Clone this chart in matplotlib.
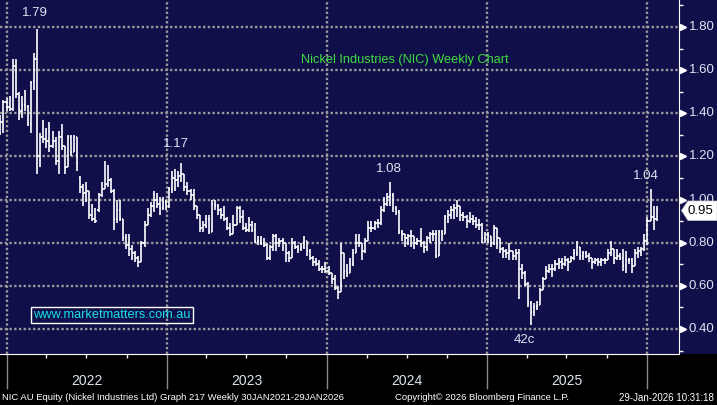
import matplotlib
matplotlib.use("Agg")
import matplotlib.pyplot as plt
import matplotlib.dates as mdates
from matplotlib.patches import Polygon, Rectangle
import numpy as np
import pandas as pd

plt.rcParams['font.family'] = ['Liberation Sans', 'DejaVu Sans']

# ---------------- data (weekly OHLC) ----------------
first_week = '2021-12-17'

opens = [1.35, 1.36, 1.45, 1.43, 1.42, 1.62, 1.49, 1.41, 1.44, 1.43,
         1.35, 1.55, 1.65, 1.20, 1.29, 1.28, 1.27, 1.25, 1.27, 1.18,
         1.29, 1.25, 1.15, 1.29, 1.22, 1.29, 1.10, 1.06, 1.03, 1.04,
         0.93, 0.91, 0.95, 1.02, 1.05, 1.07, 1.09, 1.04, 0.91, 0.95,
         0.91, 0.82, 0.79, 0.77, 0.75, 0.73, 0.71, 0.80, 0.88, 0.93,
         0.97, 1.00, 0.98, 0.96, 0.99, 0.97, 1.05, 1.10, 1.09, 1.11,
         1.12, 1.06, 1.04, 1.02, 0.97, 0.93, 0.87, 0.88, 0.91, 0.85,
         0.98, 0.97, 0.95, 0.93, 0.91, 0.87, 0.84, 0.88, 0.96, 0.92,
         0.87, 0.86, 0.88, 0.86, 0.81, 0.81, 0.80, 0.79, 0.73, 0.78,
         0.83, 0.80, 0.81, 0.80, 0.75, 0.73, 0.80, 0.78, 0.77, 0.78,
         0.81, 0.76, 0.73, 0.71, 0.70, 0.68, 0.68, 0.67, 0.66, 0.63,
         0.59, 0.57, 0.75, 0.67, 0.66, 0.70, 0.75, 0.80, 0.80, 0.76,
         0.81, 0.87, 0.87, 0.89, 0.89, 0.95, 0.98, 1.01, 1.02, 0.96,
         0.94, 0.85, 0.84, 0.82, 0.83, 0.83, 0.80, 0.81, 0.80, 0.78,
         0.82, 0.84, 0.84, 0.74, 0.85, 0.84, 0.92, 0.93, 0.95, 0.96,
         0.97, 0.93, 0.92, 0.90, 0.91, 0.90, 0.88, 0.88, 0.82, 0.84,
         0.83, 0.80, 0.87, 0.82, 0.77, 0.76, 0.75, 0.76, 0.74, 0.75,
         0.68, 0.66, 0.61, 0.52, 0.48, 0.50, 0.51, 0.58, 0.63, 0.67,
         0.68, 0.68, 0.70, 0.71, 0.70, 0.72, 0.71, 0.73, 0.75, 0.78,
         0.74, 0.75, 0.74, 0.73, 0.71, 0.72, 0.71, 0.72, 0.72, 0.75,
         0.77, 0.73, 0.74, 0.73, 0.69, 0.72, 0.72, 0.69, 0.75, 0.76,
         0.77, 0.81, 0.90, 0.92, 0.91]

highs = [1.39, 1.46, 1.47, 1.48, 1.65, 1.65, 1.50, 1.48, 1.51, 1.44,
         1.55, 1.68, 1.79, 1.31, 1.37, 1.33, 1.36, 1.32, 1.29, 1.32,
         1.35, 1.25, 1.30, 1.30, 1.30, 1.29, 1.11, 1.07, 1.08, 1.04,
         0.98, 0.96, 1.03, 1.08, 1.18, 1.16, 1.10, 1.05, 1.00, 1.00,
         0.91, 0.84, 0.84, 0.79, 0.76, 0.74, 0.81, 0.90, 0.96, 0.99,
         1.04, 1.03, 1.01, 1.01, 1.00, 1.06, 1.13, 1.14, 1.13, 1.17,
         1.12, 1.08, 1.05, 1.05, 0.97, 0.93, 0.90, 0.93, 0.93, 1.00,
         1.00, 0.98, 0.96, 0.97, 0.92, 0.89, 0.93, 0.97, 0.97, 0.95,
         0.89, 0.92, 0.90, 0.89, 0.83, 0.83, 0.82, 0.80, 0.79, 0.84,
         0.84, 0.82, 0.82, 0.80, 0.76, 0.82, 0.81, 0.79, 0.80, 0.83,
         0.81, 0.77, 0.74, 0.73, 0.72, 0.69, 0.71, 0.69, 0.66, 0.65,
         0.60, 0.80, 0.75, 0.70, 0.73, 0.77, 0.84, 0.84, 0.80, 0.82,
         0.90, 0.90, 0.90, 0.91, 0.97, 1.01, 1.03, 1.08, 1.03, 0.97,
         0.95, 0.86, 0.84, 0.84, 0.86, 0.83, 0.82, 0.87, 0.81, 0.83,
         0.85, 0.86, 0.86, 0.86, 0.86, 0.93, 0.95, 0.97, 0.98, 1.00,
         0.97, 0.94, 0.93, 0.94, 0.93, 0.92, 0.91, 0.89, 0.85, 0.85,
         0.83, 0.88, 0.87, 0.82, 0.78, 0.77, 0.80, 0.76, 0.77, 0.77,
         0.70, 0.67, 0.62, 0.53, 0.52, 0.53, 0.59, 0.64, 0.69, 0.70,
         0.70, 0.72, 0.73, 0.73, 0.74, 0.73, 0.74, 0.77, 0.81, 0.78,
         0.76, 0.76, 0.75, 0.73, 0.73, 0.73, 0.73, 0.73, 0.77, 0.81,
         0.77, 0.77, 0.75, 0.77, 0.76, 0.73, 0.73, 0.77, 0.78, 0.78,
         0.84, 0.92, 1.05, 0.97, 0.97]

lows = [1.30, 1.31, 1.41, 1.41, 1.41, 1.47, 1.37, 1.38, 1.41, 1.34,
        1.31, 1.51, 1.12, 1.15, 1.26, 1.24, 1.22, 1.24, 1.16, 1.12,
        1.23, 1.12, 1.15, 1.20, 1.22, 1.13, 1.03, 0.97, 0.99, 0.91,
        0.90, 0.89, 0.94, 1.01, 1.05, 1.06, 1.03, 0.86, 0.89, 0.90,
        0.81, 0.77, 0.74, 0.72, 0.71, 0.685, 0.71, 0.78, 0.88, 0.92,
        0.94, 0.96, 0.93, 0.95, 0.95, 0.96, 1.03, 1.04, 1.06, 1.08,
        1.04, 1.02, 1.00, 0.95, 0.91, 0.85, 0.85, 0.87, 0.84, 0.85,
        0.95, 0.93, 0.91, 0.90, 0.86, 0.83, 0.84, 0.88, 0.89, 0.86,
        0.85, 0.85, 0.85, 0.80, 0.79, 0.79, 0.78, 0.72, 0.72, 0.76,
        0.76, 0.78, 0.76, 0.71, 0.71, 0.73, 0.77, 0.75, 0.76, 0.77,
        0.74, 0.72, 0.69, 0.69, 0.67, 0.66, 0.66, 0.65, 0.61, 0.58,
        0.54, 0.57, 0.63, 0.64, 0.66, 0.69, 0.75, 0.78, 0.72, 0.75,
        0.81, 0.85, 0.86, 0.87, 0.88, 0.94, 0.97, 0.97, 0.94, 0.93,
        0.84, 0.81, 0.78, 0.79, 0.78, 0.77, 0.79, 0.78, 0.75, 0.76,
        0.80, 0.81, 0.73, 0.74, 0.81, 0.84, 0.89, 0.91, 0.91, 0.92,
        0.90, 0.90, 0.87, 0.89, 0.88, 0.87, 0.86, 0.80, 0.80, 0.80,
        0.78, 0.79, 0.77, 0.75, 0.73, 0.73, 0.72, 0.72, 0.72, 0.54,
        0.63, 0.60, 0.50, 0.42, 0.46, 0.49, 0.51, 0.58, 0.63, 0.66,
        0.64, 0.67, 0.68, 0.68, 0.69, 0.67, 0.71, 0.72, 0.74, 0.72,
        0.72, 0.73, 0.71, 0.68, 0.70, 0.69, 0.69, 0.70, 0.72, 0.74,
        0.70, 0.72, 0.72, 0.67, 0.66, 0.70, 0.66, 0.69, 0.73, 0.74,
        0.76, 0.79, 0.90, 0.86, 0.90]

closes = [1.36, 1.45, 1.43, 1.42, 1.62, 1.49, 1.42, 1.44, 1.43, 1.35,
          1.54, 1.65, 1.20, 1.29, 1.28, 1.27, 1.25, 1.27, 1.18, 1.29,
          1.25, 1.15, 1.29, 1.22, 1.29, 1.17, 1.06, 1.03, 1.04, 0.93,
          0.91, 0.90, 1.02, 1.05, 1.07, 1.09, 1.04, 0.91, 0.95, 0.91,
          0.82, 0.79, 0.77, 0.75, 0.73, 0.71, 0.80, 0.88, 0.93, 0.97,
          1.00, 0.98, 0.96, 0.99, 0.97, 1.05, 1.10, 1.09, 1.11, 1.12,
          1.06, 1.04, 1.02, 0.97, 0.93, 0.87, 0.88, 0.91, 0.85, 0.98,
          0.97, 0.95, 0.93, 0.91, 0.87, 0.84, 0.88, 0.96, 0.92, 0.87,
          0.86, 0.88, 0.86, 0.81, 0.81, 0.80, 0.79, 0.73, 0.78, 0.83,
          0.80, 0.81, 0.80, 0.75, 0.73, 0.80, 0.78, 0.77, 0.78, 0.81,
          0.76, 0.73, 0.71, 0.70, 0.68, 0.68, 0.67, 0.66, 0.63, 0.59,
          0.57, 0.75, 0.67, 0.66, 0.70, 0.75, 0.80, 0.80, 0.76, 0.81,
          0.87, 0.87, 0.89, 0.89, 0.95, 0.98, 1.01, 1.02, 0.96, 0.94,
          0.85, 0.84, 0.82, 0.83, 0.83, 0.80, 0.81, 0.80, 0.78, 0.82,
          0.84, 0.84, 0.74, 0.85, 0.84, 0.92, 0.93, 0.95, 0.96, 0.97,
          0.93, 0.92, 0.90, 0.91, 0.90, 0.88, 0.88, 0.82, 0.84, 0.83,
          0.80, 0.87, 0.82, 0.77, 0.76, 0.75, 0.76, 0.74, 0.75, 0.68,
          0.66, 0.61, 0.52, 0.48, 0.50, 0.51, 0.58, 0.63, 0.67, 0.68,
          0.68, 0.70, 0.71, 0.70, 0.72, 0.71, 0.73, 0.75, 0.78, 0.74,
          0.75, 0.74, 0.73, 0.71, 0.72, 0.71, 0.72, 0.72, 0.75, 0.77,
          0.73, 0.74, 0.73, 0.69, 0.72, 0.72, 0.69, 0.75, 0.76, 0.77,
          0.81, 0.90, 0.92, 0.91, 0.95]

years = [2022, 2023, 2024, 2025]
price_ticks = [0.40, 0.60, 0.80, 1.00, 1.20, 1.40, 1.60, 1.80]
last_price = 0.95

# callouts: (bar index, value used, label, offset in points)
callouts = [(12, 'high', '1.79', (-2, 7)),
            (59, 'high', '1.17', (-4, 9.3)),
            (127, 'high', '1.08', (-1, 5)),
            (212, 'high', '1.04', (-3, 5)),
            (173, 'low', '42c', (-5, -6.5))]

# ---------------- styling ----------------
navy = '#100f4a'
grid_col = '#9a9a9a'
txt_col = '#dde5f2'
W, H = 717, 405

fig = plt.figure(figsize=(W / 100, H / 100), dpi=100, facecolor=navy)
ax = fig.add_axes([0, 51 / H, 679 / W, 354 / H])
ax.set_facecolor(navy)
fig.patches.append(Rectangle((0, 0), 1, 51 / H, transform=fig.transFigure,
                             facecolor='black', edgecolor='none', zorder=-5))

dates = pd.date_range(first_week, periods=len(closes), freq='7D')
x = mdates.date2num(dates)

# OHLC bars
half = 3.2
ax.vlines(x, lows, highs, color='white', lw=1.2, zorder=3)
ax.hlines(opens, x - half, x, color='white', lw=1.2, zorder=3)
ax.hlines(closes, x, x + half, color='white', lw=1.2, zorder=3)

# axes limits so that Jan-2022 grid line lands where it does in the source
ref = mdates.date2num(pd.Timestamp('2022-01-01'))
px_per_day = 160 / 365.25
ax.set_xlim(ref - 7 / px_per_day, ref + 672 / px_per_day)
ax.set_ylim(0.284, 1.925)

# grid + ticks
ax.xaxis.set_major_locator(mdates.YearLocator())
ax.xaxis.set_minor_locator(mdates.MonthLocator(bymonth=[4, 7, 10]))
ax.set_yticks(price_ticks)
ax.set_yticks(np.arange(0.3, 1.95, 0.2), minor=True)
ax.yaxis.tick_right()
ax.tick_params(axis='x', which='major', length=25, width=1, color='#8a8a8a',
               labelbottom=False)
ax.tick_params(axis='x', which='minor', length=3, width=1, color='white')
ax.tick_params(axis='y', which='major', length=0, labelright=False)
ax.tick_params(axis='y', which='minor', length=3, width=1, color='white')
ax.grid(True, which='major', color=grid_col, lw=1.7, ls=(0, (1, 1)), zorder=1)

for s in ['top', 'left']:
    ax.spines[s].set_visible(False)
ax.spines['right'].set_color('white')
ax.spines['bottom'].set_color('white')

# right price labels with little triangles
ytr = ax.get_yaxis_transform()
ax.plot([1.006] * len(price_ticks), price_ticks, ls='none', marker='>', ms=4.5,
        color='white', transform=ytr, clip_on=False)
for p in price_ticks:
    ax.text(1.0145, p, f'{p:.2f}', transform=ytr, ha='left', va='center',
            fontsize=9.5, color=txt_col, clip_on=False)

# year labels
xtr = ax.get_xaxis_transform()
for yr in years:
    mid = mdates.date2num(pd.Timestamp(f'{yr}-07-02'))
    ax.text(mid, -27 / 354, str(yr), transform=xtr, ha='center', va='center',
            fontsize=10, color=txt_col, clip_on=False)

# callouts
for idx, kind, label, off in callouts:
    yv = highs[idx] if kind == 'high' else lows[idx]
    ax.annotate(label, (x[idx], yv), xytext=off, textcoords='offset points',
                ha='center', va='bottom' if kind == 'high' else 'top',
                fontsize=9.5, color=txt_col)

# last price tag
tag = [(681.5, 210.5), (688, 201), (717, 201), (717, 220.5), (688, 220.5)]
fig.patches.append(Polygon([(px / W, 1 - py / H) for px, py in tag], closed=True,
                           transform=fig.transFigure, facecolor='white',
                           edgecolor='#cccccc', lw=0.5, zorder=5))
fig.text(700.5 / W, 1 - 211 / H, f'{last_price:.2f}', ha='center', va='center',
         fontsize=9.5, color='black', zorder=6)

# title and watermark
fig.text(405 / W, 1 - 60 / H, 'Nickel Industries (NIC) Weekly Chart',
         ha='center', va='center', fontsize=9.2, color='#3ddc3d')
fig.text(112 / W, 1 - 315 / H, 'www.marketmatters.com.au', ha='center',
         va='center', fontsize=9.2, color='#19e0e8',
         bbox=dict(boxstyle='square,pad=0.18', facecolor='none',
                   edgecolor='white', lw=1))

# footer
fy = 1 - 398 / H
fig.text(2 / W, fy, 'NIC AU Equity (Nickel Industries Ltd) Graph 217 Weekly '
         '30JAN2021-29JAN2026', ha='left', va='center', fontsize=6.8,
         color='white')
fig.text(395 / W, fy, 'Copyright\u00a9 2026 Bloomberg Finance L.P.', ha='left',
         va='center', fontsize=6.8, color='white')
fig.text(714 / W, fy, '29-Jan-2026 10:31:18', ha='right', va='center',
         fontsize=7.0, color='white')

fig.savefig('out.png', dpi=100, facecolor=navy)
